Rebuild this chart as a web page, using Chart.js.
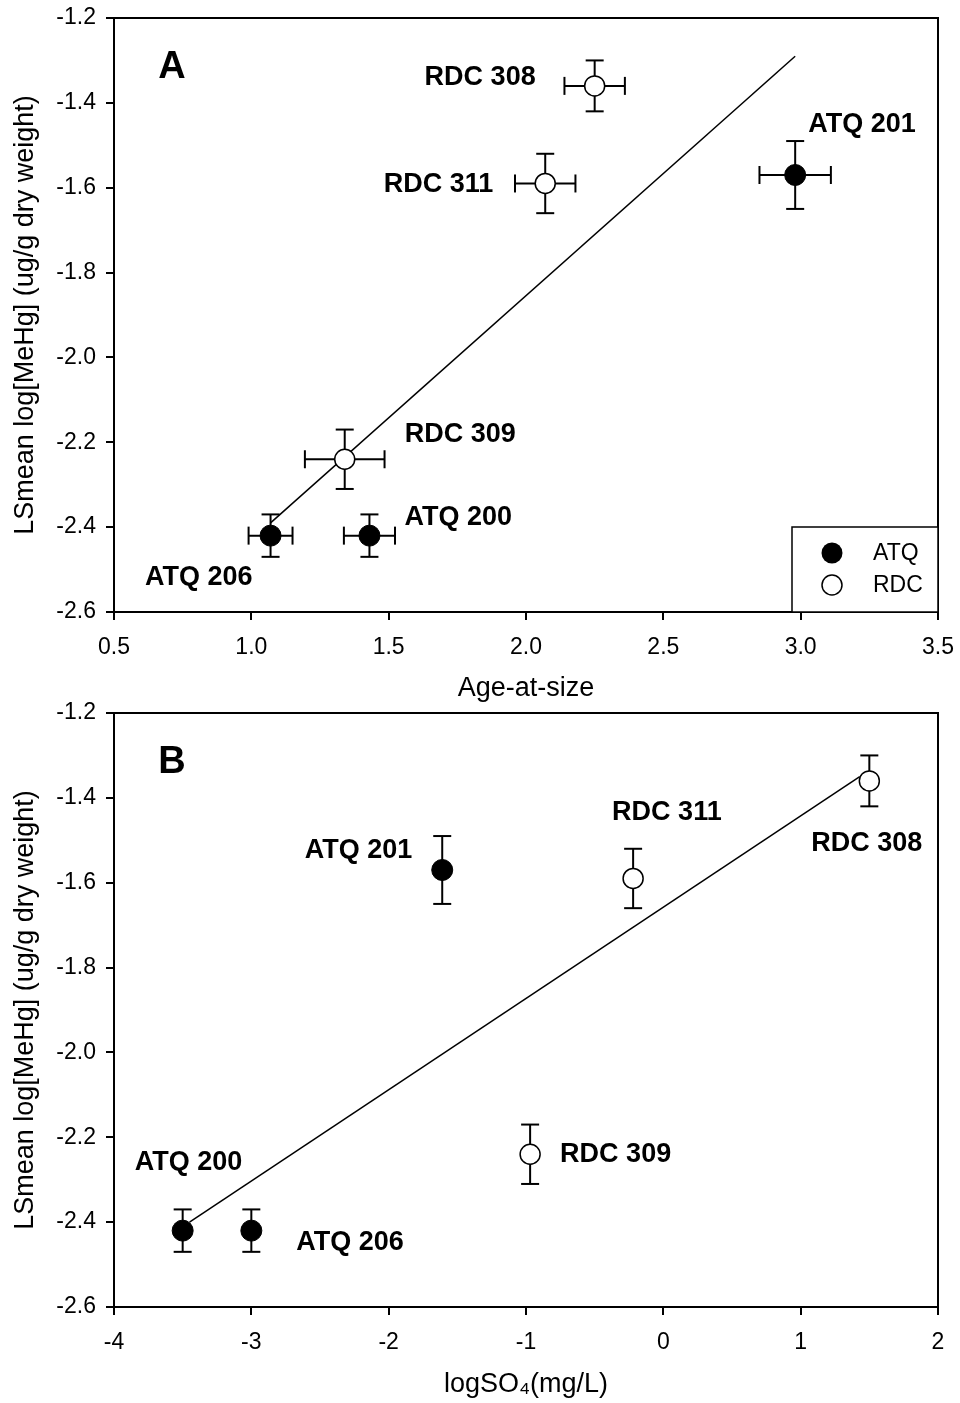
<!DOCTYPE html>
<html><head><meta charset="utf-8">
<script src="https://cdn.jsdelivr.net/npm/chart.js@4.4.1/dist/chart.umd.min.js"></script>
<style>
html,body{margin:0;padding:0;background:#fff;width:960px;height:1403px;overflow:hidden}
#ca{position:absolute;left:0;top:0}
#cb{position:absolute;left:0;top:700px}
</style></head><body>
<canvas id="ca" width="960" height="712"></canvas>
<canvas id="cb" width="960" height="703"></canvas>
<script>
// ---- data ----
const sites   = ['ATQ 200','ATQ 201','ATQ 206','RDC 308','RDC 309','RDC 311'];
const groups  = ['ATQ','ATQ','ATQ','RDC','RDC','RDC'];
const lsmean  = [-2.42,-1.57,-2.42,-1.36,-2.24,-1.59];
const lsmeanErr = [0.05,0.08,0.05,0.06,0.07,0.07];
const ageAtSize = [1.43,2.98,1.07,2.25,1.34,2.07];
const ageErr    = [0.093,0.13,0.08,0.11,0.145,0.11];
const logSO4    = [-3.5,-1.61,-3.0,1.5,-0.97,-0.22];
const fitAx = [1.07,2.98],  fitAy = [-2.39,-1.29];
const fitBx = [-3.45,1.43], fitBy = [-2.40,-1.35];
const legendLabels = ['ATQ','RDC'];
const yTitle = 'LSmean log[MeHg] (ug/g dry weight)';

// ---- styling / layout ----
const F = "'Liberation Sans', Arial, sans-serif";
const labelLayoutA = [
  {dx:35,dy:-18,al:'left'},{dx:13,dy:-50,al:'left'},{dx:-18,dy:42,al:'right'},
  {dx:-59,dy:-8,al:'right'},{dx:60,dy:-25,al:'left'},{dx:-52,dy:1,al:'right'}];
const labelLayoutB = [
  {dx:-48,dy:-68,al:'left'},{dx:-30,dy:-19,al:'right'},{dx:45,dy:12,al:'left'},
  {dx:-58,dy:63,al:'left'},{dx:30,dy:0,al:'left'},{dx:-21,dy:-66,al:'left'}];

function makeOverlay(xs, xErr, layout, letter, withLegend){
  return {
    id:'overlay',
    beforeDatasetsDraw(chart){
      const {ctx, scales:{x,y}} = chart;
      ctx.save(); ctx.strokeStyle='#000'; ctx.lineWidth=2;
      const seg=(a,b,c,d)=>{ctx.beginPath();ctx.moveTo(a,b);ctx.lineTo(c,d);ctx.stroke();};
      xs.forEach((xv,i)=>{
        const px=x.getPixelForValue(xv), py=y.getPixelForValue(lsmean[i]);
        const yl=y.getPixelForValue(lsmean[i]-lsmeanErr[i]), yh=y.getPixelForValue(lsmean[i]+lsmeanErr[i]);
        seg(px,yl,px,yh); seg(px-9,yl,px+9,yl); seg(px-9,yh,px+9,yh);
        if(xErr){
          const xl=x.getPixelForValue(xv-xErr[i]), xh=x.getPixelForValue(xv+xErr[i]);
          seg(xl,py,xh,py); seg(xl,py-9,xl,py+9); seg(xh,py-9,xh,py+9);
        }
      });
      ctx.restore();
    },
    afterDraw(chart){
      const {ctx, chartArea:a, scales:{x,y}} = chart;
      ctx.save();
      ctx.strokeStyle='#000'; ctx.lineWidth=2;
      ctx.beginPath(); ctx.moveTo(a.left,a.top); ctx.lineTo(a.right,a.top); ctx.lineTo(a.right,a.bottom); ctx.stroke();
      ctx.fillStyle='#000'; ctx.textBaseline='middle';
      ctx.font='bold 27px '+F;
      xs.forEach((xv,i)=>{
        const px=x.getPixelForValue(xv), py=y.getPixelForValue(lsmean[i]);
        const L=layout[i]; ctx.textAlign=L.al;
        ctx.fillText(sites[i], px+L.dx, py+L.dy);
      });
      ctx.font='bold 38px '+F; ctx.textAlign='center';
      ctx.fillText(letter, a.left+58, a.top+50);
      if(withLegend){
        const lx=792, ly=527, lw=a.right-792, lh=a.bottom-527;
        ctx.fillStyle='#fff'; ctx.fillRect(lx,ly,lw,lh);
        ctx.lineWidth=1.5; ctx.strokeStyle='#000'; ctx.strokeRect(lx,ly,lw,lh);
        ctx.beginPath(); ctx.arc(832,553,10.5,0,Math.PI*2); ctx.fillStyle='#000'; ctx.fill();
        ctx.beginPath(); ctx.arc(832,585,10,0,Math.PI*2); ctx.fillStyle='#fff'; ctx.fill(); ctx.stroke();
        ctx.fillStyle='#000'; ctx.font='23px '+F; ctx.textAlign='left';
        ctx.fillText(legendLabels[0], 873, 554);
        ctx.fillText(legendLabels[1], 873, 586);
      }
      ctx.restore();
    }
  };
}

function makeScales(xmin,xmax,xstep,xdec,xtitle,xAxisH,titlePadB){
  const gridCfg={display:true,drawOnChartArea:false,drawTicks:true,tickLength:8,color:'#000',lineWidth:2};
  return {
    x:{type:'linear',min:xmin,max:xmax,
      ticks:{stepSize:xstep,color:'#000',font:{family:F,size:23},padding:14,maxRotation:0,autoSkip:false,
             callback:v=>Number(v).toFixed(xdec)},
      grid:gridCfg, border:{display:true,color:'#000',width:2},
      title:{display:true,text:xtitle,color:'#000',font:{family:F,size:27},padding:{top:0,bottom:titlePadB}},
      afterFit:s=>{s.height=xAxisH; s.paddingLeft=0; s.paddingRight=0;}},
    y:{type:'linear',min:-2.6,max:-1.2,
      ticks:{stepSize:0.2,color:'#000',font:{family:F,size:23},padding:10,
             callback:v=>Number(v).toFixed(1)},
      grid:gridCfg, border:{display:true,color:'#000',width:2},
      title:{display:true,text:yTitle,color:'#000',font:{family:F,size:27},padding:{top:9,bottom:0}},
      afterFit:s=>{s.width=114; s.paddingTop=0; s.paddingBottom=0;}}
  };
}

function makeDatasets(xs, fx, fy){
  const pts=g=>xs.map((xv,i)=>({x:xv,y:lsmean[i],g:groups[i]})).filter(p=>p.g===g).map(p=>({x:p.x,y:p.y}));
  return [
    {label:legendLabels[0],data:pts('ATQ'),showLine:false,pointRadius:10.5,pointBackgroundColor:'#000',pointBorderColor:'#000',pointBorderWidth:1,order:1,clip:false},
    {label:legendLabels[1],data:pts('RDC'),showLine:false,pointRadius:10,pointBackgroundColor:'#fff',pointBorderColor:'#000',pointBorderWidth:1.5,order:2,clip:false},
    {label:'fit',data:fx.map((v,i)=>({x:v,y:fy[i]})),showLine:true,borderColor:'#000',borderWidth:1.5,pointRadius:0,order:3}
  ];
}

const common = {responsive:false,animation:false,
  plugins:{legend:{display:false},tooltip:{enabled:false}}};

new Chart(document.getElementById('ca'),{
  type:'scatter',
  data:{datasets:makeDatasets(ageAtSize,fitAx,fitAy)},
  options:Object.assign({},common,{
    layout:{padding:{top:18,right:22,left:0,bottom:0}},
    scales:makeScales(0.5,3.5,0.5,1,'Age-at-size',100,7)}),
  plugins:[makeOverlay(ageAtSize,ageErr,labelLayoutA,'A',true)]
});

new Chart(document.getElementById('cb'),{
  type:'scatter',
  data:{datasets:makeDatasets(logSO4,fitBx,fitBy)},
  options:Object.assign({},common,{
    layout:{padding:{top:13,right:22,left:0,bottom:0}},
    scales:makeScales(-4,2,1,0,'logSO\u2084(mg/L)',96,2)}),
  plugins:[makeOverlay(logSO4,null,labelLayoutB,'B',false)]
});
</script>
</body></html>
